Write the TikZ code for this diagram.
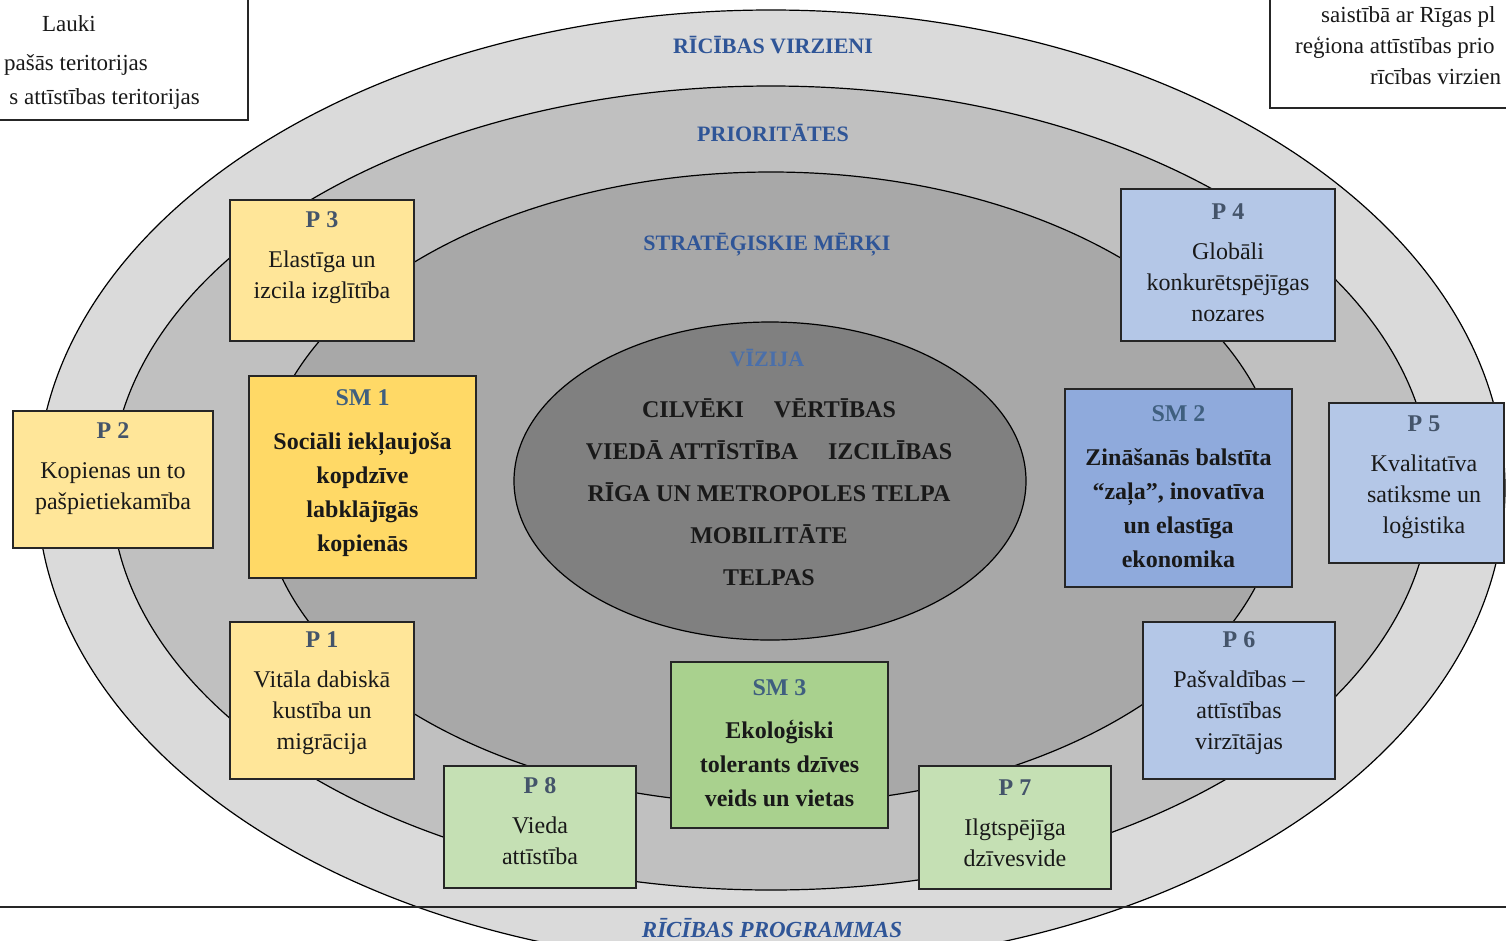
\documentclass[tikz,border=0pt]{standalone}
\usepackage{fontspec}
\setmainfont{Liberation Serif}
\usepackage{graphicx}
\definecolor{e1}{RGB}{218,218,218}
\definecolor{e2}{RGB}{192,192,192}
\definecolor{e3}{RGB}{168,168,168}
\definecolor{e4}{RGB}{128,128,128}
\definecolor{py}{RGB}{255,230,153}
\definecolor{smy}{RGB}{255,217,102}
\definecolor{pg}{RGB}{197,224,180}
\definecolor{smg}{RGB}{169,209,142}
\definecolor{pb}{RGB}{180,199,231}
\definecolor{smb}{RGB}{143,170,220}
\definecolor{headc}{RGB}{47,85,151}
\definecolor{vizc}{RGB}{74,111,170}
\definecolor{ptc}{RGB}{68,84,106}
\definecolor{smtc}{RGB}{63,95,127}
\definecolor{linec}{RGB}{38,38,38}
\tikzset{
  ell/.style={draw=black, line width=1.2pt},
  box/.style={draw=linec, line width=1.4pt, inner sep=0pt},
  ptxt/.style={align=center, font=\fontsize{24}{31}\selectfont, text=black!90, inner sep=0pt},
  smtxt/.style={align=center, font=\fontsize{24}{34}\selectfont\bfseries, text=black!90, inner sep=0pt},
  head/.style={font=\fontsize{22}{26}\selectfont\bfseries, text=headc, inner sep=0pt},
  vtxt/.style={align=center, font=\fontsize{24}{42}\selectfont\bfseries, text=black!90, inner sep=0pt},
  lt/.style={font=\fontsize{23}{28}\selectfont, text=black!90, inner sep=0pt},
}
\newcommand{\pt}[1]{{\color{ptc}\bfseries #1}}
\newcommand{\smt}[1]{{\color{smtc}\bfseries #1}}
\begin{document}
\begin{tikzpicture}[x=1pt,y=-1pt]
\useasboundingbox (0,0) rectangle (1506,940);
\clip (0,0) rectangle (1506,940);
\fill[white] (0,0) rectangle (1506,940);
% ellipses
\draw[ell, fill=e1] (771,488) ellipse [x radius=734pt, y radius=478pt];
\draw[ell, fill=e2] (771,488) ellipse [x radius=660pt, y radius=402pt];
\draw[ell, fill=e3] (771,488) ellipse [x radius=510pt, y radius=316pt];
\draw[ell, fill=e4] (770,481) ellipse [x radius=256pt, y radius=159pt];
% headings
\node[head] (hrv) at (773,45) {RĪCĪBAS VIRZIENI};
\node[head] (hpr) at (773,133) {PRIORITĀTES};
\node[head] (hsm) at (767,245) {STRATĒĢISKIE MĒRĶI};
\node[head, text=vizc] (hvz) at (767,358) {VĪZIJA};
\node[vtxt] (viz) at (769,492) {CILVĒKI\hspace{30pt}VĒRTĪBAS\\VIEDĀ ATTĪSTĪBA\hspace{30pt}IZCILĪBAS\\RĪGA UN METROPOLES TELPA\\MOBILITĀTE\\TELPAS};
% boxes
\node[box, fill=py, minimum width=184pt, minimum height=141pt] (p3) at (322,270.5) {};
\node[ptxt] (p3t) at (322,258) {\pt{P 3}\\[9pt]Elastīga un\\izcila izglītība};
\node[box, fill=py, minimum width=200pt, minimum height=137pt] (p2) at (113,479.5) {};
\node[ptxt] (p2t) at (113,469) {\pt{P 2}\\[9pt]Kopienas un to\\pašpietiekamība};
\node[box, fill=smy, minimum width=227pt, minimum height=202pt] (sm1) at (362.5,477) {};
\node[smtxt] (sm1t) at (362.5,473.5) {\smt{SM 1}\\[10pt]Sociāli iekļaujoša\\kopdzīve\\labklājīgās\\kopienās};
\node[box, fill=py, minimum width=184pt, minimum height=157pt] (p1) at (322,700.5) {};
\node[ptxt] (p1t) at (322,693) {\pt{P 1}\\[9pt]Vitāla dabiskā\\kustība un\\migrācija};
\node[box, fill=pg, minimum width=192pt, minimum height=122pt] (p8) at (540,827) {};
\node[ptxt] (p8t) at (540,821.5) {\pt{P 8}\\[9pt]Vieda\\attīstība};
\node[box, fill=smg, minimum width=217pt, minimum height=166pt] (sm3) at (779.5,745) {};
\node[smtxt] (sm3t) at (779.5,743) {\smt{SM 3}\\[9pt]Ekoloģiski\\tolerants dzīves\\veids un vietas};
\node[box, fill=pg, minimum width=192pt, minimum height=123pt] (p7) at (1015,827.5) {};
\node[ptxt] (p7t) at (1015,823.5) {\pt{P 7}\\[9pt]Ilgtspējīga\\dzīvesvide};
\node[box, fill=pb, minimum width=192pt, minimum height=157pt] (p6) at (1239,700.5) {};
\node[ptxt] (p6t) at (1239,693) {\pt{P 6}\\[9pt]Pašvaldības –\\attīstības\\virzītājas};
\node[box, fill=smb, minimum width=227pt, minimum height=198pt] (sm2) at (1178.5,488) {};
\node[smtxt] (sm2t) at (1178.5,487) {\smt{SM 2}\\[10pt]Zināšanās balstīta\\“zaļa”, inovatīva\\un elastīga\\ekonomika};
\node[box, fill=pb, minimum width=175pt, minimum height=160pt] (p5) at (1416.5,483) {};
\node[ptxt] (p5t) at (1424,477) {\pt{P 5}\\[9pt]Kvalitatīva\\satiksme un\\loģistika};
\node[box, fill=pb, minimum width=214pt, minimum height=152pt] (p4) at (1228,265) {};
\node[ptxt] (p4t) at (1228,263) {\pt{P 4}\\[9pt]Globāli\\konkurētspējīgas\\nozares};
% legend boxes (cropped)
\node[box, fill=white, minimum width=268pt, minimum height=140pt] (lb) at (114,50) {};
\node[lt, anchor=base] (l1) at (69,31) {Lauki};
\node[lt, anchor=base east] (l2) at (148,70) {pašās teritorijas};
\node[lt, anchor=base east] (l3) at (200,104) {s attīstības teritorijas};
\node[box, fill=white, minimum width=250pt, minimum height=128pt] (rb) at (1395,44) {};
\node[lt, anchor=base west] (r1) at (1321,22) {saistībā ar Rīgas pl};
\node[lt, anchor=base west] (r2) at (1295,53) {reģiona attīstības prio};
\node[lt, anchor=base west] (r3) at (1370,84) {rīcības virzien};
% bottom line and label
\coordinate (hlL) at (0,907);
\coordinate (hlR) at (1506,907);
\draw[line width=1.8pt, draw=linec] (hlL) -- (hlR);
\node[head, font=\fontsize{23}{26}\selectfont\bfseries\itshape] (rp) at (772,928) {RĪCĪBAS PROGRAMMAS};
\end{tikzpicture}
\end{document}
